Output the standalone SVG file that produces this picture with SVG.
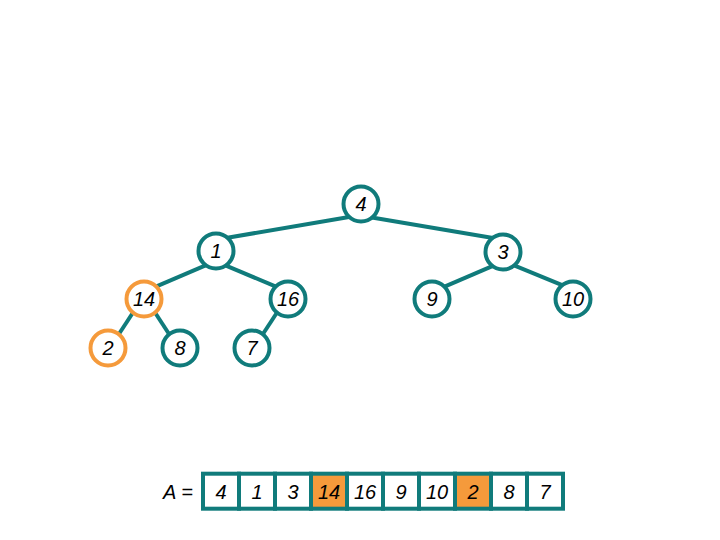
<svg xmlns="http://www.w3.org/2000/svg" width="720" height="540" viewBox="0 0 720 540">
<style>
.edge{stroke:#107B7B;stroke-width:4;fill:none}
.node circle{fill:#fff;stroke:#107B7B;stroke-width:4}
.node.hl circle{stroke:#F59A3B}
text{font-family:"Liberation Sans",Arial,sans-serif;font-style:italic;font-size:20px;fill:#000;text-anchor:middle}
.cell{fill:#fff;stroke:#107B7B;stroke-width:4}
.cell.hl{fill:#F59A3B}
</style>
<rect width="720" height="540" fill="#fff"/>
<g id="connectors">
<line class="edge" x1="352" y1="216.5" x2="223" y2="238.5"/>
<line class="edge" x1="366" y1="216.5" x2="496" y2="238.5"/>
<line class="edge" x1="208.5" y1="264.2" x2="149.5" y2="289.3"/>
<line class="edge" x1="226" y1="265.7" x2="282.5" y2="289.3"/>
<line class="edge" x1="497" y1="264.1" x2="440.5" y2="288.4"/>
<line class="edge" x1="511" y1="264.2" x2="572.5" y2="289.3"/>
<line class="edge" x1="135.3" y1="309" x2="115.7" y2="339"/>
<line class="edge" x1="152.7" y1="309" x2="172.3" y2="339"/>
<line class="edge" x1="279.3" y1="309" x2="259.7" y2="339"/>
</g>
<g id="n4" class="node"><circle cx="361" cy="204" r="17.5"/><text x="361" y="211">4</text></g>
<g id="n1" class="node"><circle cx="216" cy="251" r="17.5"/><text x="216" y="258">1</text></g>
<g id="n3" class="node"><circle cx="503" cy="252" r="17.5"/><text x="503" y="259">3</text></g>
<g id="n14" class="node hl"><circle cx="144" cy="299" r="17.5"/><text x="144" y="306">14</text></g>
<g id="n16" class="node"><circle cx="288" cy="299" r="17.5"/><text x="288" y="306">16</text></g>
<g id="n9" class="node"><circle cx="432" cy="299" r="17.5"/><text x="432" y="306">9</text></g>
<g id="n10" class="node"><circle cx="573" cy="299" r="17.5"/><text x="573" y="306">10</text></g>
<g id="n2" class="node hl"><circle cx="108" cy="348" r="17.5"/><text x="108" y="355">2</text></g>
<g id="n8" class="node"><circle cx="180" cy="348" r="17.5"/><text x="180" y="355">8</text></g>
<g id="n7" class="node"><circle cx="252" cy="348" r="17.5"/><text x="252" y="355">7</text></g>
<g id="array">
<text x="178" y="499">A =</text>
<rect class="cell" x="203" y="473.7" width="36" height="35"/>
<rect class="cell" x="239" y="473.7" width="36" height="35"/>
<rect class="cell" x="275" y="473.7" width="36" height="35"/>
<rect class="cell hl" x="311" y="473.7" width="36" height="35"/>
<rect class="cell" x="347" y="473.7" width="36" height="35"/>
<rect class="cell" x="383" y="473.7" width="36" height="35"/>
<rect class="cell" x="419" y="473.7" width="36" height="35"/>
<rect class="cell hl" x="455" y="473.7" width="36" height="35"/>
<rect class="cell" x="491" y="473.7" width="36" height="35"/>
<rect class="cell" x="527" y="473.7" width="36" height="35"/>
<text x="221" y="499">4</text>
<text x="257" y="499">1</text>
<text x="293" y="499">3</text>
<text x="329" y="499">14</text>
<text x="365" y="499">16</text>
<text x="401" y="499">9</text>
<text x="437" y="499">10</text>
<text x="473" y="499">2</text>
<text x="509" y="499">8</text>
<text x="545" y="499">7</text>
</g>
</svg>
